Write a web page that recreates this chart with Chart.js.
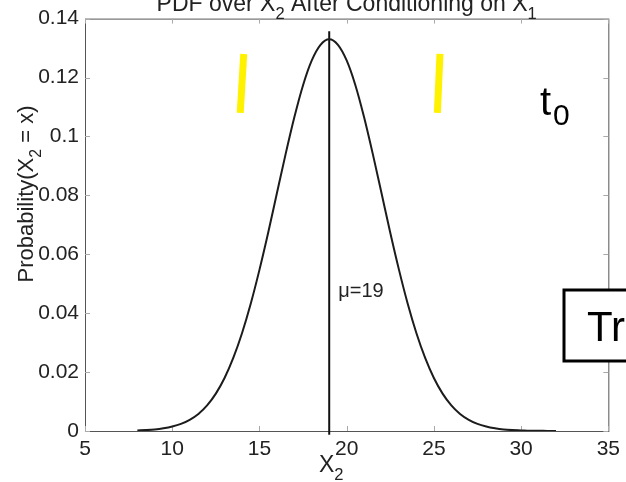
<!DOCTYPE html>
<html>
<head>
<meta charset="utf-8">
<script src="https://cdn.jsdelivr.net/npm/chart.js@4.4.0/dist/chart.umd.min.js"></script>
<style>
  html, body { margin: 0; padding: 0; background: #fff; }
</style>
</head>
<body>
<canvas id="pdf-chart" width="626" height="482"></canvas>
<script>
// values
const xValues = [8, 8.5, 9, 9.5, 10, 10.5, 11, 11.5, 12, 12.5, 13, 13.5, 14, 14.5, 15, 15.5,
  16, 16.5, 17, 17.5, 18, 18.5, 19, 19.5, 20, 20.5, 21, 21.5, 22, 22.5, 23, 23.5,
  24, 24.5, 25, 25.5, 26, 26.5, 27, 27.5, 28, 28.5, 29, 29.5, 30, 30.5, 31, 31.5, 32];
const pdfValues = [0.0002, 0.0003, 0.0005, 0.0009, 0.0015, 0.0024, 0.0038, 0.0058, 0.0087, 0.0127,
  0.0180, 0.0248, 0.0332, 0.0432, 0.0547, 0.0673, 0.0807, 0.0940, 0.1065, 0.1174,
  0.1258, 0.1311, 0.1330, 0.1311, 0.1258, 0.1174, 0.1065, 0.0940, 0.0807, 0.0673,
  0.0547, 0.0432, 0.0332, 0.0248, 0.0180, 0.0127, 0.0087, 0.0058, 0.0038, 0.0024,
  0.0015, 0.0009, 0.0005, 0.0003, 0.0002, 0.0001, 0.0001, 0, 0];
const mu = 19;
const muLineY = [-0.0013, 0.1357];
const markY = [0.108, 0.128];
const leftMarkX = [13.9, 14.1];
const rightMarkX = [25.2, 25.35];
const xTicks = [5, 10, 15, 20, 25, 30, 35];
const yTicks = [0, 0.02, 0.04, 0.06, 0.08, 0.1, 0.12, 0.14];

const FONT = '"Liberation Sans", Arial, sans-serif';

// text with subscript parts, e.g. [["X"], ["2", true]]
function richWidth(ctx, parts, size) {
  let w = 0;
  parts.forEach(p => {
    ctx.font = (p[1] ? size * 0.72 : size) + "px " + FONT;
    w += ctx.measureText(p[0]).width;
  });
  return w;
}
function drawRich(ctx, parts, x, y, size, align) {
  let cx = x;
  if (align === "center") cx = x - richWidth(ctx, parts, size) / 2;
  ctx.textAlign = "left";
  ctx.textBaseline = "alphabetic";
  parts.forEach(p => {
    ctx.font = (p[1] ? size * 0.72 : size) + "px " + FONT;
    ctx.fillText(p[0], cx, p[1] ? y + size * 0.35 : y);
    cx += ctx.measureText(p[0]).width;
  });
}

const matlabFrame = {
  id: "matlabFrame",
  beforeDatasetsDraw(chart) {
    const { ctx, chartArea: a, scales } = chart;
    ctx.save();
    ctx.strokeStyle = "#555";
    ctx.lineWidth = 1;
    ctx.strokeRect(a.left + 0.5, a.top + 0.5, a.right - a.left, a.bottom - a.top);
    ctx.strokeStyle = "#aaa";
    ctx.beginPath();
    xTicks.forEach(v => {
      const px = Math.round(scales.x.getPixelForValue(v)) + 0.5;
      ctx.moveTo(px, a.bottom); ctx.lineTo(px, a.bottom - 5);
      ctx.moveTo(px, a.top); ctx.lineTo(px, a.top + 5);
    });
    yTicks.forEach(v => {
      const py = Math.round(scales.y.getPixelForValue(v)) + 0.5;
      ctx.moveTo(a.left, py); ctx.lineTo(a.left + 5, py);
      ctx.moveTo(a.right, py); ctx.lineTo(a.right - 5, py);
    });
    ctx.stroke();
    ctx.restore();
  },
  afterDraw(chart) {
    const { ctx, chartArea: a, scales } = chart;
    ctx.save();
    ctx.fillStyle = "#222";
    // title, cut at the top like the original
    drawRich(ctx, [["PDF over X"], ["2", true], [" After Conditioning on X"], ["1", true]],
      (a.left + a.right) / 2, 11, 23, "center");
    // x label
    drawRich(ctx, [["X"], ["2", true]], scales.x.getPixelForValue(mu) + 2, 472, 23, "center");
    // y label
    ctx.save();
    ctx.translate(33, 194);
    ctx.rotate(-Math.PI / 2);
    drawRich(ctx, [["Probability(X"], ["2", true], [" = x)"]], 0, 0, 22, "center");
    ctx.restore();
    // mean label
    ctx.font = "20px " + FONT;
    ctx.fillText("\u03bc=19", scales.x.getPixelForValue(mu) + 9, 297);

    // t0 annotation
    ctx.fillStyle = "#000";
    ctx.font = "40px " + FONT;
    ctx.fillText("t", 540, 115);
    ctx.font = "30px " + FONT;
    ctx.fillText("0", 553, 125);

    // Tr box
    ctx.fillStyle = "#fff";
    ctx.fillRect(564, 290, 80, 71);
    ctx.strokeStyle = "#000";
    ctx.lineWidth = 3;
    ctx.strokeRect(564, 290, 80, 71);
    ctx.fillStyle = "#000";
    ctx.font = "42px " + FONT;
    ctx.fillText("Tr", 587, 341);
    ctx.restore();
  }
};

new Chart(document.getElementById("pdf-chart"), {
  type: "scatter",
  data: {
    datasets: [
      {
        data: xValues.map((x, i) => ({ x: x, y: pdfValues[i] })),
        showLine: true,
        borderColor: "#1c1c1c",
        borderWidth: 2,
        pointRadius: 0,
        cubicInterpolationMode: "monotone",
      },
      {
        data: muLineY.map(y => ({ x: mu, y: y })),
        showLine: true,
        borderColor: "#111",
        borderWidth: 2,
        pointRadius: 0,
        clip: false,
      },
      {
        data: markY.map((y, i) => ({ x: leftMarkX[i], y: y })),
        showLine: true,
        borderColor: "#fff200",
        borderWidth: 7,
        pointRadius: 0,
      },
      {
        data: markY.map((y, i) => ({ x: rightMarkX[i], y: y })),
        showLine: true,
        borderColor: "#fff200",
        borderWidth: 7,
        pointRadius: 0,
      },
    ],
  },
  options: {
    responsive: false,
    animation: false,
    layout: { padding: { top: 15, right: 14, left: 0, bottom: 0 } },
    plugins: { legend: { display: false }, tooltip: { enabled: false } },
    scales: {
      x: {
        type: "linear",
        min: 5,
        max: 35,
        afterBuildTicks: s => { s.ticks = xTicks.map(v => ({ value: v })); },
        afterFit: s => { s.height = 51; },
        grid: { display: false, drawTicks: false },
        border: { display: false },
        ticks: { color: "#222", padding: 6, maxRotation: 0, font: { family: FONT, size: 21 } },
      },
      y: {
        min: 0,
        max: 0.14,
        afterBuildTicks: s => { s.ticks = yTicks.map(v => ({ value: v })); },
        afterFit: s => { s.width = 85; },
        grid: { display: false, drawTicks: false },
        border: { display: false },
        ticks: {
          color: "#222",
          padding: 6,
          font: { family: FONT, size: 21 },
          callback: v => String(+v.toFixed(2)),
        },
      },
    },
  },
  plugins: [matlabFrame],
});
</script>
</body>
</html>
